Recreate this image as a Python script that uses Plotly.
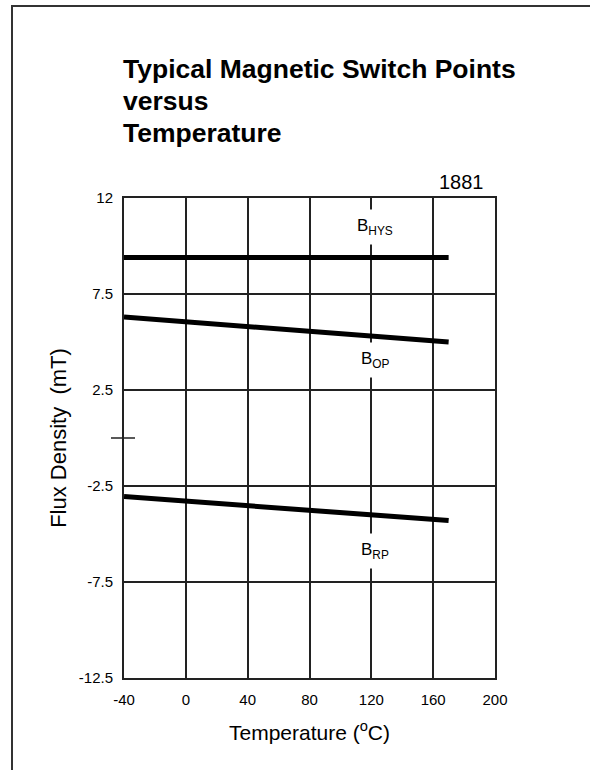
import plotly.graph_objects as go

# Data
temperature = [-40, 170]
b_hys = [9.4, 9.4]
b_op = [6.3, 5.0]
b_rp = [-3.05, -4.3]

x_ticks = [-40, 0, 40, 80, 120, 160, 200]
x_ticktext = ["-40", "0", "40", "80", "120", "160", "200"]
y_ticks = [12.5, 7.5, 2.5, -2.5, -7.5, -12.5]
y_ticktext = ["12", "7.5", "2.5", "-2.5", "-7.5", "-12.5"]

labels = [("B<sub>HYS</sub>", 122.5, 11.0),
          ("B<sub>OP</sub>", 122.5, 4.05),
          ("B<sub>RP</sub>", 122.5, -5.9)]

title_lines = ["Typical Magnetic Switch Points", "versus", "Temperature"]

FONT = "Liberation Sans, Arial, sans-serif"
GRID = "#222222"

fig = go.Figure()
for name, ys in [("B_HYS", b_hys), ("B_OP", b_op), ("B_RP", b_rp)]:
    fig.add_trace(go.Scatter(x=temperature, y=ys, mode="lines", name=name,
                             line=dict(color="black", width=5),
                             showlegend=False, hoverinfo="skip"))

L, R, T, B = 124, 495, 198, 678
W, H = 590, 770
pw, ph = R - L, B - T

def px(xp):
    return (xp - L) / pw

def py(yp):
    return (B - yp) / ph

fig.update_layout(
    width=W, height=H,
    margin=dict(l=L, r=W - R, t=T, b=H - B),
    paper_bgcolor="white", plot_bgcolor="white",
    font=dict(family=FONT, color="black"),
    showlegend=False,
    xaxis=dict(range=[-40, 200], tickvals=x_ticks, ticktext=x_ticktext,
               showgrid=True, gridcolor=GRID, gridwidth=2,
               showline=True, linecolor=GRID, linewidth=2, mirror=True,
               zeroline=False, ticks="", ticklabelstandoff=7,
               tickfont=dict(size=15, family=FONT, color="black"),
               title=dict(text="Temperature (<sup>o</sup>C)",
                          font=dict(size=21, family=FONT, color="black"),
                          standoff=18)),
    yaxis=dict(range=[-12.5, 12.5], tickvals=y_ticks, ticktext=y_ticktext,
               showgrid=True, gridcolor=GRID, gridwidth=2,
               showline=True, linecolor=GRID, linewidth=2, mirror=True,
               zeroline=False, ticks="", ticklabelstandoff=6,
               tickfont=dict(size=15, family=FONT, color="black"),
               title=dict(text="Flux Density  (mT)",
                          font=dict(size=22, family=FONT, color="black"),
                          standoff=6)),
)

for text, x, y in labels:
    fig.add_annotation(x=x, y=y, xref="x", yref="y", text=text, showarrow=False,
                       font=dict(size=17, family=FONT, color="black"),
                       bgcolor="white", borderpad=6)

for line, yc in zip(title_lines, [69, 101, 133]):
    fig.add_annotation(xref="paper", yref="paper", x=px(121), y=py(yc),
                       xanchor="left", yanchor="middle", align="left", showarrow=False,
                       text="<b>" + line + "</b>",
                       font=dict(size=26.5, family=FONT, color="black"))

fig.add_annotation(xref="paper", yref="paper", x=px(486), y=py(195),
                   xanchor="right", yanchor="bottom", showarrow=False,
                   text="1881", font=dict(size=20, family=FONT, color="black"))

# zero tick crossing the axis
fig.add_shape(type="line", xref="paper", yref="y", x0=px(111), x1=px(135),
              y0=0, y1=0, line=dict(color=GRID, width=1.5))

# outer frame
fig.add_shape(type="rect", xref="paper", yref="paper", x0=px(12), x1=px(640),
              y0=py(820), y1=py(6), line=dict(color="#333333", width=2),
              fillcolor="rgba(0,0,0,0)", layer="below")

fig.write_html("out.html", config={"displayModeBar": False},
               post_script="document.body.style.margin='0';document.body.style.overflow='hidden';")
